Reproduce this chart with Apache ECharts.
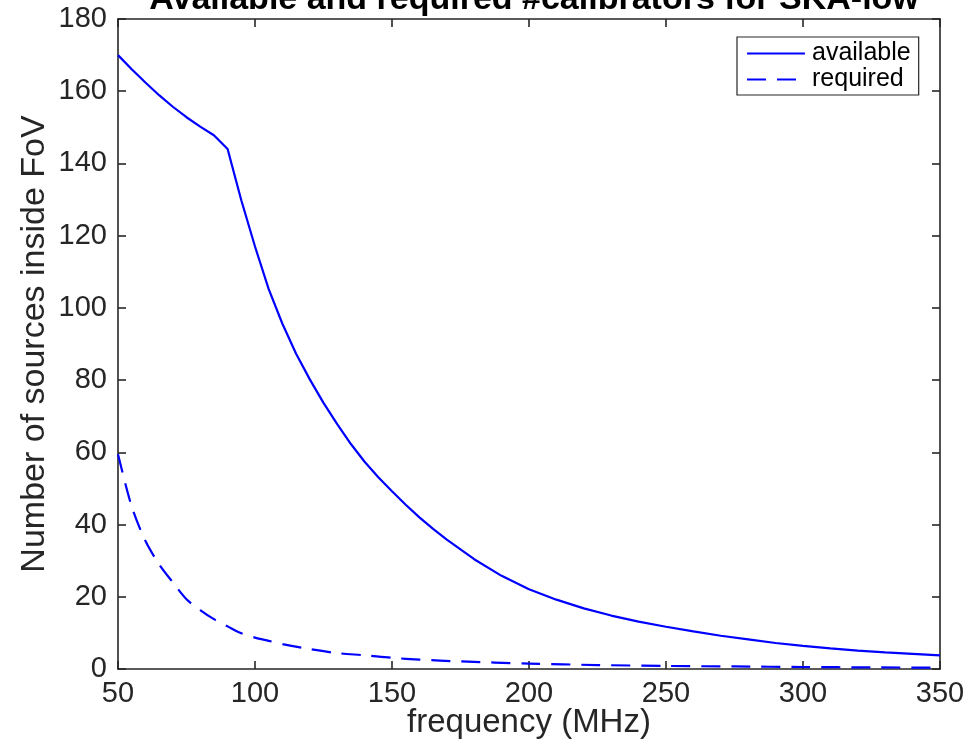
<!DOCTYPE html>
<html>
<head>
<meta charset="utf-8">
<script src="https://cdn.jsdelivr.net/npm/echarts@6/dist/echarts.min.js"></script>
<style>
html,body{margin:0;padding:0;background:#fff;overflow:hidden;}
#chart{width:980px;height:741px;}
</style>
</head>
<body>
<div id="chart"></div>
<script>
const titleText = 'Available and required #calibrators for SKA-low';
const xName = 'frequency (MHz)';
const yName = 'Number of sources inside FoV';
const seriesNames = ['available', 'required'];

const availableFreq = [50,55,60,65,70,75,80,85,90,95,100,105,110,115,120,125,130,135,140,145,150,155,160,165,170,180,190,200,210,220,230,240,250,260,270,280,290,300,310,320,330,340,350];
const availableVals = [170,166.1,162.4,158.9,155.7,152.8,150.2,147.8,144,129.8,117,105.2,95.6,87.3,80.2,73.7,67.8,62.3,57.4,53.1,49.2,45.5,42,38.8,35.8,30.4,25.8,22.1,19.2,16.8,14.8,13.1,11.7,10.4,9.2,8.2,7.2,6.4,5.7,5.1,4.6,4.2,3.8];

const requiredFreq = [50,55,60,65,70,75,80,85,90,95,100,105,110,120,130,140,150,160,175,200,225,250,275,300,325,350];
const requiredVals = [59.5,45,35.5,29,24,19.3,16.3,13.8,11.8,9.9,8.7,7.8,6.9,5.5,4.4,3.8,3.1,2.6,2.1,1.5,1.1,0.85,0.7,0.55,0.45,0.38];

const xMin = 50, xMax = 350, xStep = 50;
const yMin = 0, yMax = 180, yStep = 20;

const FONT = 'Liberation Sans';
const AX = '#262626';

function pairs(xs, ys){ return xs.map((x,i)=>[x, ys[i]]); }

const el = document.getElementById('chart');
const chart = echarts.init(el, null, {renderer:'canvas', width:980, height:741});
const axisCommon = {
  axisLine:{show:true, onZero:false, lineStyle:{color:AX, width:1.6}},
  axisTick:{show:true, inside:true, length:8, lineStyle:{color:AX, width:1.6}},
  splitLine:{show:false},
  nameMoveOverlap:false
};
chart.setOption({
  animation:false,
  backgroundColor:'#fff',
  title:{
    text:titleText, left:529, textAlign:'center', top:-22,
    textStyle:{fontFamily:FONT, fontSize:34, fontWeight:'bold', color:'#000'}
  },
  grid:{left:118, right:40, top:19, bottom:72, containLabel:false, outerBoundsMode:'none'},
  legend:{
    orient:'vertical', left:737, top:37,
    itemWidth:58, itemHeight:14, itemGap:1,
    backgroundColor:'#fff', borderColor:AX, borderWidth:1.2, borderRadius:0,
    padding:[4,8,3,9],
    itemStyle:{opacity:0},
    textStyle:{fontFamily:FONT, fontSize:25, color:'#000', padding:[0,0,0,2]},
    data:seriesNames
  },
  xAxis:[
    Object.assign({type:'value', min:xMin, max:xMax, interval:xStep, position:'bottom',
      name:xName, nameLocation:'middle', nameGap:37,
      nameTextStyle:{fontFamily:FONT, fontSize:33, color:AX},
      axisLabel:{fontFamily:FONT, fontSize:29, color:AX, margin:10}}, axisCommon),
    Object.assign({type:'value', min:xMin, max:xMax, interval:xStep, position:'top',
      axisLabel:{show:false}}, axisCommon)
  ],
  yAxis:[
    Object.assign({type:'value', min:yMin, max:yMax, interval:yStep, position:'left',
      name:yName, nameLocation:'middle', nameGap:66,
      nameTextStyle:{fontFamily:FONT, fontSize:34, color:AX},
      axisLabel:{fontFamily:FONT, fontSize:29, color:AX, margin:11}}, axisCommon),
    Object.assign({type:'value', min:yMin, max:yMax, interval:yStep, position:'right',
      axisLabel:{show:false}}, axisCommon)
  ],
  series:[
    {name:seriesNames[0], type:'line', data:pairs(availableFreq, availableVals), symbol:'none', smooth:false,
      lineStyle:{color:'#0000ff', width:2.2}, itemStyle:{color:'#0000ff'}},
    {name:seriesNames[1], type:'line', data:pairs(requiredFreq, requiredVals), symbol:'none', smooth:0.3,
      lineStyle:{color:'#0000ff', width:2.2, type:[19,11]}, itemStyle:{color:'#0000ff'}}
  ]
});
</script>
</body>
</html>
